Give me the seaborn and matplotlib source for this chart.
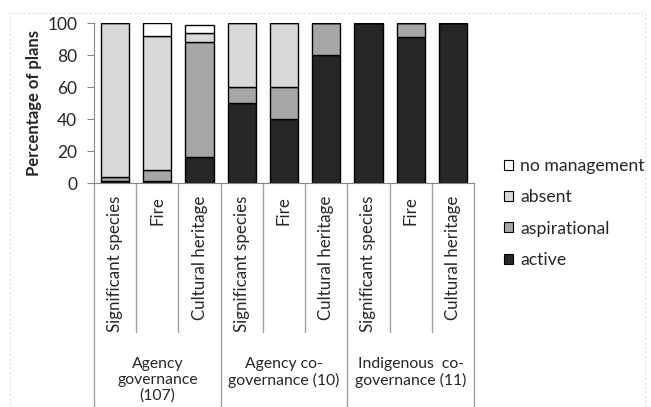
import numpy as np
import pandas as pd
import matplotlib
matplotlib.use("Agg")
import matplotlib.pyplot as plt
import seaborn as sns
from matplotlib.patches import Patch, Rectangle

sns.set_style("white")
plt.rcParams["font.family"] = ["Lato", "DejaVu Sans"]

categories = ["Significant species", "Fire", "Cultural heritage"] * 3
groups = ["Agency\ngovernance\n(107)", "Agency co-\ngovernance (10)", "Indigenous  co-\ngovernance (11)"]

active = [1, 1, 16, 50, 40, 80, 100, 91, 100]
aspirational = [3, 7, 72, 10, 20, 20, 0, 9, 0]
absent = [96, 84, 6, 40, 40, 0, 0, 0, 0]
no_management = [0, 8, 5, 0, 0, 0, 0, 0, 0]

layers = [("active", active, "#262626"),
          ("aspirational", aspirational, "#a6a6a6"),
          ("absent", absent, "#d9d9d9"),
          ("no management", no_management, "#ffffff")]

fig = plt.figure(figsize=(6.51, 4.07), dpi=100)
ax = fig.add_axes([94 / 651, 1 - 183 / 407, 380 / 651, 160 / 407])

pos = list(range(len(categories)))
bottom = np.zeros(len(categories))
for name, vals, col in layers:
    df = pd.DataFrame({"pos": pos, "value": vals})
    sns.barplot(data=df, x="pos", y="value", order=pos, color=col, bottom=bottom,
                width=0.67, edgecolor="black", linewidth=1, ax=ax, saturation=1)
    bottom = bottom + np.array(vals)

ax.set_xlim(-0.5, 8.5)
ax.set_ylim(0, 100)
ax.set_yticks(range(0, 101, 20))
ax.set_yticklabels([str(v) for v in range(0, 101, 20)], fontsize=12.5)
ax.tick_params(axis="y", length=5, color="#868686", pad=7, left=True)
ax.set_xticks([])
ax.set_xlabel("")
ax.set_ylabel("Percentage of plans", fontsize=12, fontweight="bold", labelpad=4)
for s in ["top", "right"]:
    ax.spines[s].set_visible(False)
for s in ["left", "bottom"]:
    ax.spines[s].set_color("#868686")

trans = ax.get_xaxis_transform()
for i in range(len(categories) + 1):
    x = i - 0.5
    y_end = -1.4 if i % 3 == 0 else -0.93
    ax.plot([x, x], [0, y_end], transform=trans, color="#a0a0a0", lw=1, clip_on=False)

for i, lab in enumerate(categories):
    ax.text(i, -0.08, lab, transform=trans, rotation=90, ha="center", va="top",
            fontsize=12.2)

for g, lab in enumerate(groups):
    ax.text(3 * g + 1, -1.09, lab, transform=trans, ha="center", va="top",
            fontsize=11.3, linespacing=1.12)

handles = [Patch(facecolor=c, edgecolor="black", linewidth=0.8, label=n)
           for n, v, c in layers[::-1]]
fig.legend(handles=handles, loc="center left", bbox_to_anchor=(497 / 651, 1 - 213 / 407),
           frameon=False, fontsize=12.7, handlelength=0.5, handleheight=0.5,
           handletextpad=0.4, labelspacing=0.87, borderaxespad=0)

fig.patches.append(Rectangle((10 / 651, 0), 635 / 651, 1 - 13 / 407, transform=fig.transFigure,
                             fill=False, edgecolor="#e0e0e0", lw=0.8, linestyle=(0, (2, 2))))

fig.savefig("out.png", dpi=100)
